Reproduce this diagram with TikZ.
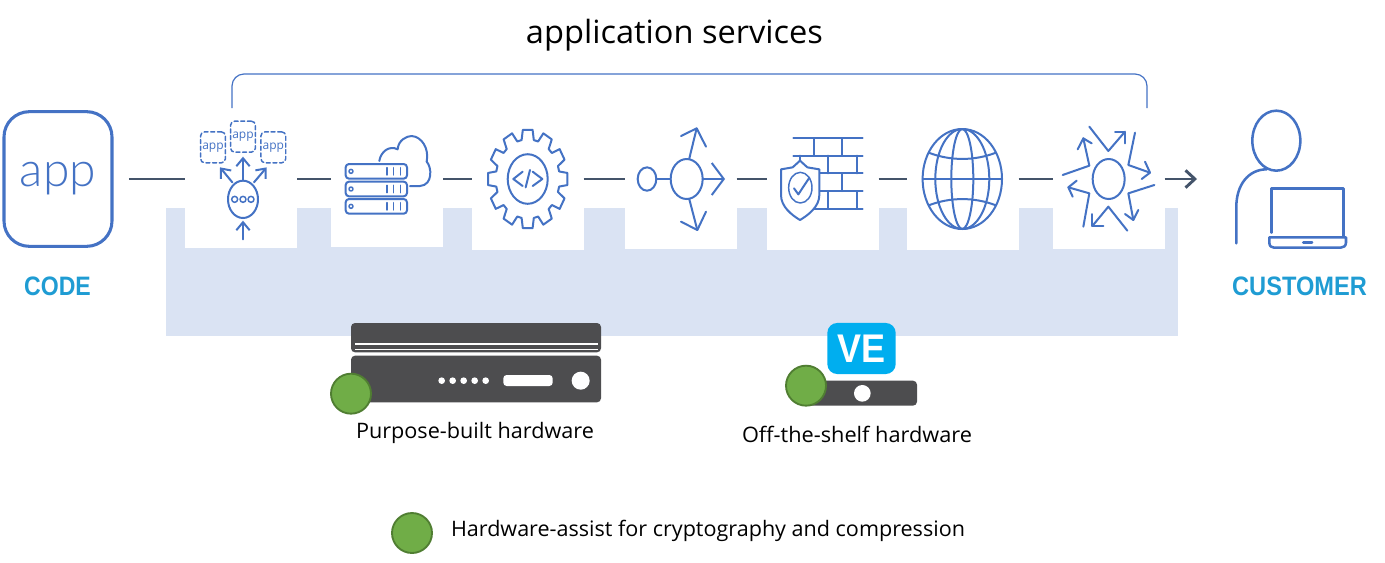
\documentclass[tikz,border=0pt]{standalone}
\usepackage{fontspec}
\usepackage{graphicx}
\usetikzlibrary{arrows.meta}
\setmainfont{Open Sans}
\newfontfamily\applight{Lato Light}
\definecolor{iconblue}{HTML}{4472C4}
\definecolor{bandblue}{HTML}{DAE3F3}
\definecolor{linkslate}{HTML}{44546A}
\definecolor{capblue}{HTML}{1F9CD3}
\definecolor{darkbox}{HTML}{4D4D4F}
\definecolor{vecyan}{HTML}{00AEEF}
\definecolor{greenfill}{HTML}{70AD47}
\definecolor{greenedge}{HTML}{507E32}
\tikzset{
  fine/.style={x=.25pt,y=-.25pt},
  icon/.style={draw=iconblue,line width=1.5pt,line cap=round,line join=round},
  cellbox/.style={fill=white,inner sep=0pt,outer sep=0pt,minimum width=84pt},
  link/.style={draw=linkslate,line width=2.2pt},
  bigbarb/.style={-{Straight Barb[length=9pt,width=24pt]}},
  smallbarb/.style={-{Straight Barb[length=6pt,width=10pt]}},
  greendot/.style={circle,fill=greenfill,draw=greenedge,line width=1.4pt,minimum size=30pt,inner sep=0pt},
  capsx/.style={text=capblue,inner sep=0pt,font=\fontspec{Liberation Sans}\bfseries\fontsize{20}{24}\selectfont},
  bodytext/.style={inner sep=0pt,text=black,font=\fontsize{16}{19}\selectfont},
  miniapp/.style={icon,densely dashed,rounded corners=3pt,inner sep=0pt,minimum width=18.6pt,minimum height=23.2pt,line width=1.1pt,text=iconblue,font=\fontsize{9}{10}\selectfont},
}
\begin{document}
\begin{tikzpicture}[x=.75pt,y=-.75pt]
\useasboundingbox (0,0) rectangle (1385,562);
% band and cells
\fill[bandblue] (166,208) rectangle (1178,336);
\node[cellbox,minimum height=103.5pt] (c1) at (241,179) {};
\node[cellbox,minimum height=102pt] (c2) at (387,179) {};
\node[cellbox,minimum height=106.5pt] (c3) at (527.5,179) {};
\node[cellbox,minimum height=105pt] (c4) at (680.5,179) {};
\node[cellbox,minimum height=106.5pt] (c5) at (822.5,179) {};
\node[cellbox,minimum height=106.5pt] (c6) at (962.5,179) {};
\node[cellbox,minimum height=105pt] (c7) at (1108.5,179) {};
% title and bracket
\node[inner sep=0pt,font=\fontsize{24}{29}\selectfont] (title) at (674.5,35) {\resizebox{222.75pt}{\height}{application services}};
\draw[iconblue,line width=.9pt,rounded corners=9pt] (232,108) -- (232,74) -- (1147,74) -- (1147,108);
% app box
\node[draw=iconblue,line width=2.3pt,rounded corners=19pt,inner sep=0pt,minimum width=81pt,minimum height=101pt,text=iconblue,font=\applight\fontsize{36}{40}\selectfont] (app) at (58,179) {\raisebox{2pt}{app}};
\node[capsx] (code) at (57.5,286) {\resizebox{50pt}{\height}{CODE}};
% connectors
\draw[link] (app.east) [shorten <=11.5pt] -- (c1.west);
\draw[link] (c1.east) -- (c2.west);
\draw[link] (c2.east) -- (c3.west);
\draw[link] (c3.east) -- (c4.west);
\draw[link] (c4.east) -- (c5.west);
\draw[link] (c5.east) -- (c6.west);
\draw[link] (c6.east) -- (c7.west);
\coordinate (custin) at (1197,179);
\draw[link,-{Straight Barb[length=7pt,width=13pt]}] (c7.east) -- (custin);
% icon 1: scale out
\begin{scope}[shift={(0,90)},fine]
\node[miniapp] (m1) at (639,172) {app};
\node[miniapp] (m2) at (729,140) {app};
\node[miniapp] (m3) at (820,172) {app};
\draw[icon] (729,328) ellipse (45 and 56);
\foreach \x in {704,729,753} \draw[icon,line width=1.1pt] (\x,328) circle (9);
\draw[icon,smallbarb] (729,272) -- (729,200);
\draw[icon,smallbarb] (697,277) -- (660,232);
\draw[icon,smallbarb] (762,277) -- (800,232);
\draw[icon,smallbarb] (729,448) -- (729,392);
\end{scope}
% icon 2: server and cloud
\begin{scope}[shift={(330,110)},fine]
\foreach \y in {162,215,267} {
  \draw[icon,rounded corners=2.5pt] (47,\y) rectangle (231,\y+44);
  \draw[icon,line width=1.1pt] (63,\y+22) circle (6);
  \foreach \x in {171,191,211} \draw[icon,line width=1.1pt] (\x,\y+11) -- (\x,\y+33);
}
\draw[icon] (148,153) .. controls (152,125) and (178,105) .. (203,118)
  .. controls (205,90) and (230,78) .. (245,78)
  .. controls (275,80) and (298,115) .. (290,155)
  .. controls (305,170) and (310,225) .. (270,228) -- (240,228);
\end{scope}
% icon 3: gear
\begin{scope}[shift={(527.7,179)},x=.75pt,y=.93pt]
\draw[icon] (-11:32) \foreach \a in {0,30,...,330} { -- ({\a-11}:32) -- ({\a-7}:40) -- ({\a+7}:40) -- ({\a+11}:32) } -- cycle;
\draw[icon] (0,0) ellipse (20 and 20);
\end{scope}
\begin{scope}[shift={(330,110)},fine]
\draw[icon] (578,185) -- (550,207) -- (578,228);
\draw[icon] (608,185) -- (637,207) -- (608,228);
\draw[icon] (600,180) -- (587,232);
\end{scope}
% icon 4: route
\begin{scope}[shift={(330,110)},fine]
\draw[icon] (951,207) ellipse (28 and 35);
\draw[icon] (979,207) -- (1022,207);
\draw[icon] (1070,207) ellipse (48 and 60);
\draw[icon,bigbarb] (1118,207) -- (1185,207);
\draw[icon] (1078,145) -- (1100,55);
\draw[icon] (1053,78) -- (1100,55) -- (1128,110);
\draw[icon] (1078,268) -- (1102,360);
\draw[icon] (1053,335) -- (1102,360) -- (1128,305);
\end{scope}
% icon 5: firewall
\begin{scope}[shift={(730,110)},fine]
\draw[icon] (190,84) -- (398,84);
\draw[icon] (190,137) -- (398,137);
\draw[icon] (265,190) -- (398,190);
\draw[icon] (265,243) -- (398,243);
\draw[icon] (250,296) -- (398,296);
\foreach \x in {252,337} \draw[icon] (\x,84) -- (\x,137);
\foreach \x in {295,380} \draw[icon] (\x,137) -- (\x,190);
\draw[icon] (337,190) -- (337,243);
\foreach \x in {295,380} \draw[icon] (\x,243) -- (\x,296);
\draw[icon] (210,137) -- (210,152);
\draw[icon,fill=white] (210,152) -- (232,172) -- (268,178) -- (268,255)
  .. controls (268,290) and (235,315) .. (210,330)
  .. controls (185,315) and (153,290) .. (153,255) -- (153,178) -- (188,172) -- cycle;
\draw[icon,line width=1.1pt] (211,233) ellipse (35 and 46);
\draw[icon] (192,235) -- (205,253) -- (238,203);
\end{scope}
% icon 6: globe
\begin{scope}[shift={(962.3,179)},x=.75pt,y=.75pt]
\draw[icon] (0,0) ellipse (39.7 and 50);
\draw[icon] (0,0) ellipse (11 and 50);
\draw[icon] (0,0) ellipse (27 and 50);
\draw[icon] (-39.7,0) -- (39.7,0);
\draw[icon] (-33.5,26.3) .. controls (-12,18) and (12,18) .. (33.5,26.3);
\draw[icon] (-33.5,-26.3) .. controls (-12,-18) and (12,-18) .. (33.5,-26.3);
\end{scope}
% icon 7: burst
\begin{scope}[shift={(730,110)},fine]
\draw[icon] (1136,207) ellipse (48 and 60);
\draw[icon] (1078,50) -- (1135,123) -- (1185,65);
\draw[icon] (1155,65) -- (1185,65) -- (1185,100);
\draw[icon] (1215,68) -- (1195,165) -- (1260,188);
\draw[icon] (1245,155) -- (1260,188) -- (1235,207);
\draw[icon] (1273,225) -- (1195,250) -- (1210,330);
\draw[icon] (1185,312) -- (1210,330) -- (1225,300);
\draw[icon] (1192,362) -- (1135,290) -- (1087,348);
\draw[icon] (1087,312) -- (1087,348) -- (1120,348);
\draw[icon] (1060,350) -- (1078,250) -- (1015,232);
\draw[icon] (1040,212) -- (1015,232) -- (1028,260);
\draw[icon] (998,195) -- (1078,167) -- (1060,85);
\draw[icon] (1043,118) -- (1060,85) -- (1085,100);
\end{scope}
% customer
\begin{scope}[shift={(1160,100)},fine]
\draw[icon,line width=1.9pt] (349,122) ellipse (72 and 90);
\draw[icon,line width=1.9pt] (229,430) -- (229,320) .. controls (229,255) and (265,208) .. (320,208);
\draw[icon,line width=1.9pt] (335,398) -- (335,265) -- (550,265) -- (550,410);
\draw[icon,line width=1.9pt] (328,412) -- (558,412) -- (558,428) .. controls (558,438) and (550,443) .. (542,443) -- (342,443) .. controls (334,443) and (328,438) .. (328,428) -- cycle;
\draw[icon,line width=2.2pt] (430,427) -- (456,427);
\end{scope}
\node[capsx] (customer) at (1299.5,286) {\resizebox{101pt}{\height}{CUSTOMER}};
% purpose-built hardware
\begin{scope}[shift={(320,315)},fine]
\fill[darkbox,rounded corners=3pt] (93,24) rectangle (843,112);
\fill[white] (105,85) rectangle (833,89);
\fill[white] (105,101) rectangle (833,105);
\fill[darkbox,rounded corners=3pt] (93,122) rectangle (843,262);
\foreach \x in {365,398,431,464,497} \fill[white] (\x,197) circle (10);
\fill[white,rounded corners=2.5pt] (550,180) rectangle (698,213);
\fill[white] (782,197) circle (27);
\node[greendot] (hw1) at (93,236) {};
\end{scope}
\node[bodytext] (pbh) at (475,433) {\resizebox{178.5pt}{\height}{Purpose-built hardware}};
% off-the-shelf hardware
\begin{scope}[shift={(770,315)},fine]
\fill[darkbox,rounded corners=3pt] (110,197) rectangle (441,272);
\fill[white] (277,235) circle (25);
\node[fill=vecyan,rounded corners=7.5pt,inner sep=0pt,minimum width=51.3pt,minimum height=38.3pt,text=white,font=\fontspec{Liberation Sans}\bfseries\fontsize{30}{32}\selectfont] (ve) at (274.5,100.5) {\resizebox{36pt}{\height}{VE}};
\node[greendot] (hw2) at (108,212) {};
\end{scope}
\node[bodytext] (oth) at (857,434) {\resizebox{172.5pt}{\height}{Off-the-shelf hardware}};
% legend
\node[greendot] (legdot) at (412,533) {};
\node[bodytext] (leg) at (708,531) {\resizebox{385.5pt}{\height}{Hardware-assist for cryptography and compression}};
\end{tikzpicture}
\end{document}
